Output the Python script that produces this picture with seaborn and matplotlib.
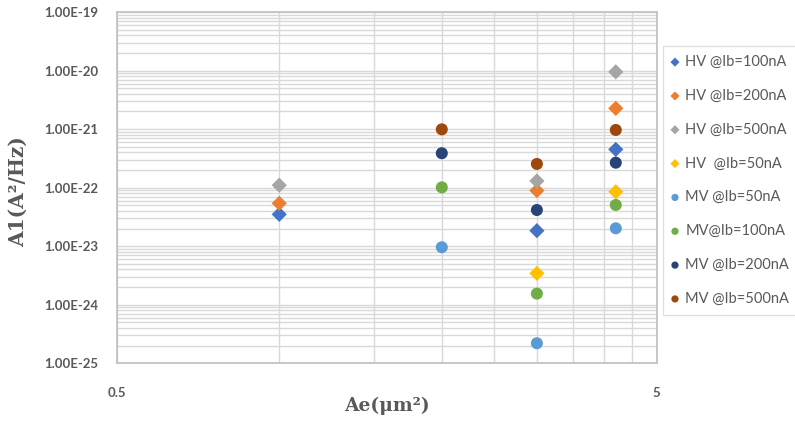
import matplotlib
matplotlib.use("Agg")
import matplotlib.pyplot as plt
import matplotlib.ticker as mticker
import seaborn as sns
import pandas as pd
import numpy as np

# ---- data ----
series_names = ["HV @Ib=100nA", "HV @Ib=200nA", "HV @Ib=500nA", "HV  @Ib=50nA",
                "MV @Ib=50nA", "MV@Ib=100nA", "MV @Ib=200nA", "MV @Ib=500nA"]
hv100_x = [1.0, 3.0, 4.2]
hv100_y = [3.5e-23, 1.84e-23, 4.5e-22]
hv200_x = [1.0, 3.0, 4.2]
hv200_y = [5.4e-23, 8.9e-23, 2.26e-21]
hv500_x = [1.0, 3.0, 4.2]
hv500_y = [1.1e-22, 1.3e-22, 9.5e-21]
hv50_x = [3.0, 4.2]
hv50_y = [3.44e-24, 8.5e-23]
mv50_x = [2.0, 3.0, 4.2]
mv50_y = [9.6e-24, 2.2e-25, 2.02e-23]
mv100_x = [2.0, 3.0, 4.2]
mv100_y = [1.01e-22, 1.55e-24, 5.06e-23]
mv200_x = [2.0, 3.0, 4.2]
mv200_y = [3.87e-22, 4.15e-23, 2.67e-22]
mv500_x = [2.0, 3.0, 4.2]
mv500_y = [9.9e-22, 2.54e-22, 9.66e-22]

y_ticks = [1e-25, 1e-24, 1e-23, 1e-22, 1e-21, 1e-20, 1e-19]
x_ticks = [0.5, 5]

xs = [hv100_x, hv200_x, hv500_x, hv50_x, mv50_x, mv100_x, mv200_x, mv500_x]
ys = [hv100_y, hv200_y, hv500_y, hv50_y, mv50_y, mv100_y, mv200_y, mv500_y]
colors = ["#4472C4", "#ED7D31", "#A5A5A5", "#FFC000",
          "#5B9BD5", "#70AD47", "#264478", "#9E480E"]
markers = ["D", "D", "D", "D", "o", "o", "o", "o"]

rows = []
for name, xv, yv in zip(series_names, xs, ys):
    for a, b in zip(xv, yv):
        rows.append({"series": name, "Ae": a, "A1": b})
df = pd.DataFrame(rows)

sns.set_theme(style="white")
plt.rcParams["font.family"] = ["Lato", "DejaVu Sans"]

fig = plt.figure(figsize=(7.95, 4.25), dpi=100)
ax = fig.add_axes([0.1468, 0.1452, 0.826 - 0.1468, 0.9718 - 0.1452])

for name, c, m in zip(series_names, colors, markers):
    sub = df[df["series"] == name]
    sns.scatterplot(data=sub, x="Ae", y="A1", ax=ax, color=c, marker=m,
                    s=75 if m == "o" else 60, edgecolor="none", label=name,
                    zorder=3)

ax.set_xscale("log")
ax.set_yscale("log")
ax.set_xlim(0.5, 5)
ax.set_ylim(1e-25, 1e-19)

grid_c = "#D9D9D9"
minor_y = [k * 10.0 ** e for e in range(-25, -19) for k in range(2, 10)]
ax.yaxis.set_major_locator(mticker.FixedLocator(y_ticks))
ax.yaxis.set_minor_locator(mticker.FixedLocator(minor_y))
ax.yaxis.set_major_formatter(mticker.FuncFormatter(lambda v, p: f"{v:.2E}"))
ax.yaxis.set_minor_formatter(mticker.NullFormatter())
ax.xaxis.set_major_locator(mticker.FixedLocator(x_ticks))
ax.xaxis.set_major_formatter(mticker.FuncFormatter(lambda v, p: f"{v:g}"))
ax.xaxis.set_minor_locator(mticker.FixedLocator(np.arange(1.0, 4.6, 0.5)))
ax.xaxis.set_minor_formatter(mticker.NullFormatter())

ax.grid(True, which="both", axis="both", color=grid_c, linewidth=1.0, zorder=0)
ax.set_axisbelow(True)
for sp in ax.spines.values():
    sp.set_color("#BFBFBF")
    sp.set_linewidth(1.2)

ax.tick_params(axis="both", which="both", length=0, labelsize=9.5,
               labelcolor="#595959")
ax.tick_params(axis="y", pad=13)
ax.tick_params(axis="x", pad=17)

ax.set_xlabel("Ae(μm²)", fontfamily="DejaVu Serif", fontweight="bold",
              fontsize=13.5, color="#595959")
ax.set_ylabel("A1(A²/Hz)", fontfamily="DejaVu Serif", fontweight="bold",
              fontsize=14.5, color="#595959")
ax.xaxis.set_label_coords(0.5, -0.095)
ax.yaxis.set_label_coords(-0.165, 0.49)

leg = ax.legend(loc="upper left", bbox_to_anchor=(0.834, 0.892),
                bbox_transform=fig.transFigure, borderaxespad=0,
                frameon=True, fancybox=False, labelspacing=1.36,
                handletextpad=0.5, handlelength=0.4, borderpad=0.62,
                markerscale=0.6, prop={"family": "Lato", "size": 10.5})
leg.get_frame().set_edgecolor("#D9D9D9")
leg.get_frame().set_linewidth(1.0)
for t in leg.get_texts():
    t.set_color("#595959")

fig.canvas.draw()
for lab in ax.get_xticklabels() + ax.get_yticklabels():
    lab.set_fontweight("bold")

fig.savefig("out.png", dpi=100)
